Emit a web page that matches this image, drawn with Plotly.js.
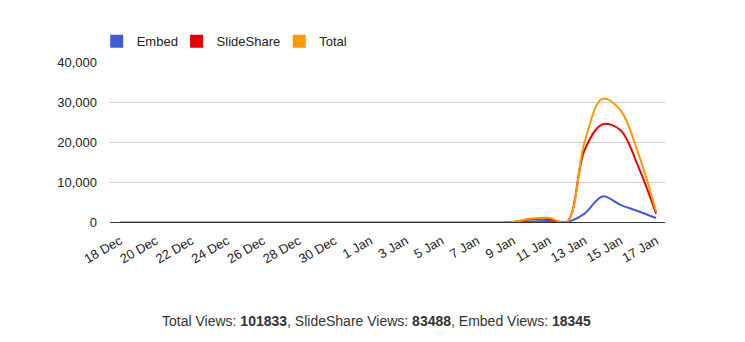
<!DOCTYPE html>
<html>
<head>
<meta charset="utf-8">
<script src="https://cdn.plot.ly/plotly-3.0.1.min.js"></script>
<style>
  html, body { margin: 0; padding: 0; background: #fff; }
  #chart { width: 745px; height: 342px; }
</style>
</head>
<body>
<div id="chart"></div>
<script>
// Days from 18 Dec to 17 Jan
const days = ["18 Dec","19 Dec","20 Dec","21 Dec","22 Dec","23 Dec","24 Dec","25 Dec","26 Dec","27 Dec",
  "28 Dec","29 Dec","30 Dec","31 Dec","1 Jan","2 Jan","3 Jan","4 Jan","5 Jan","6 Jan",
  "7 Jan","8 Jan","9 Jan","10 Jan","11 Jan","12 Jan","13 Jan","14 Jan","15 Jan","16 Jan","17 Jan"];

const embed = [0,0,0,0,0,0,0,0,0,0, 0,0,0,0,0,0,0,0,0,0, 0,0,0,100,250,0,2100,6400,4300,2700,1000];
const slideshare = [0,0,0,0,0,0,0,0,0,0, 0,0,0,0,0,0,0,0,0,0, 0,0,0,700,750,0,18000,24400,23000,13900,2100];
const total = [0,0,0,0,0,0,0,0,0,0, 0,0,0,0,0,0,0,0,0,0, 0,0,0,850,1050,0,20000,30800,28000,17200,2650];

const seriesNames = ["Embed","SlideShare","Total"];
const seriesColors = ["#3f5bd6","#e60000","#ff9900"];
const seriesData = [embed, slideshare, total];
const legendIds = ["legend","legend2","legend3"];
const legendX = [-0.024, 0.12, 0.305];

const summaryText = "Total Views: <b>101833</b>, SlideShare Views: <b>83488</b>, Embed Views: <b>18345</b>";

const xIdx = days.map((_, i) => i);
const tickIdx = xIdx.filter(i => i % 2 === 0);
const tickLab = tickIdx.map(i => days[i]);

const traces = [];
seriesData.forEach((ys, k) => {
  traces.push({
    type: "scatter", mode: "lines", x: xIdx, y: ys, name: seriesNames[k],
    line: { color: seriesColors[k], width: 2, shape: "spline", smoothing: 1 },
    showlegend: false, hoverinfo: "x+y"
  });
});
seriesNames.forEach((n, k) => {
  traces.push({
    type: "scatter", mode: "markers", x: [null], y: [null], name: n,
    marker: { symbol: "square", size: 13, color: seriesColors[k] },
    showlegend: true, legend: legendIds[k]
  });
});

const font = "Arial, 'Liberation Sans', sans-serif";

const layout = {
  width: 745, height: 342,
  margin: { l: 110, r: 80, t: 62, b: 120, pad: 0 },
  paper_bgcolor: "#fff", plot_bgcolor: "#fff",
  font: { family: font, size: 13, color: "#222" },
  showlegend: true,
  xaxis: {
    type: "linear", range: [-0.56, 30.5],
    tickmode: "array", tickvals: tickIdx, ticktext: tickLab,
    tickangle: -30, showgrid: false, zeroline: false, showline: false,
    ticks: "", ticklabelstandoff: 8,
    tickfont: { family: font, size: 13, color: "#222" },
    fixedrange: true
  },
  yaxis: {
    range: [0, 40000], tickvals: [0, 10000, 20000, 30000, 40000],
    tickformat: ",d", showgrid: true, gridcolor: "#cccccc", gridwidth: 1,
    zeroline: true, zerolinecolor: "#333333", zerolinewidth: 1,
    showline: false, ticks: "", ticklabelstandoff: 12,
    tickfont: { family: font, size: 13, color: "#222" },
    fixedrange: true
  },
  annotations: [{
    xref: "paper", yref: "paper", x: 0.48, y: -0.62, xanchor: "center", yanchor: "middle",
    text: summaryText, showarrow: false,
    font: { family: font, size: 14, color: "#333" }
  }]
};
legendIds.forEach((id, k) => {
  layout[id] = {
    orientation: "h", x: legendX[k], xanchor: "left", y: 1.13, yanchor: "middle",
    font: { family: font, size: 13, color: "#222" },
    itemwidth: 30, bgcolor: "rgba(0,0,0,0)"
  };
});

Plotly.newPlot("chart", traces, layout, { displayModeBar: false, staticPlot: true });
</script>
</body>
</html>
